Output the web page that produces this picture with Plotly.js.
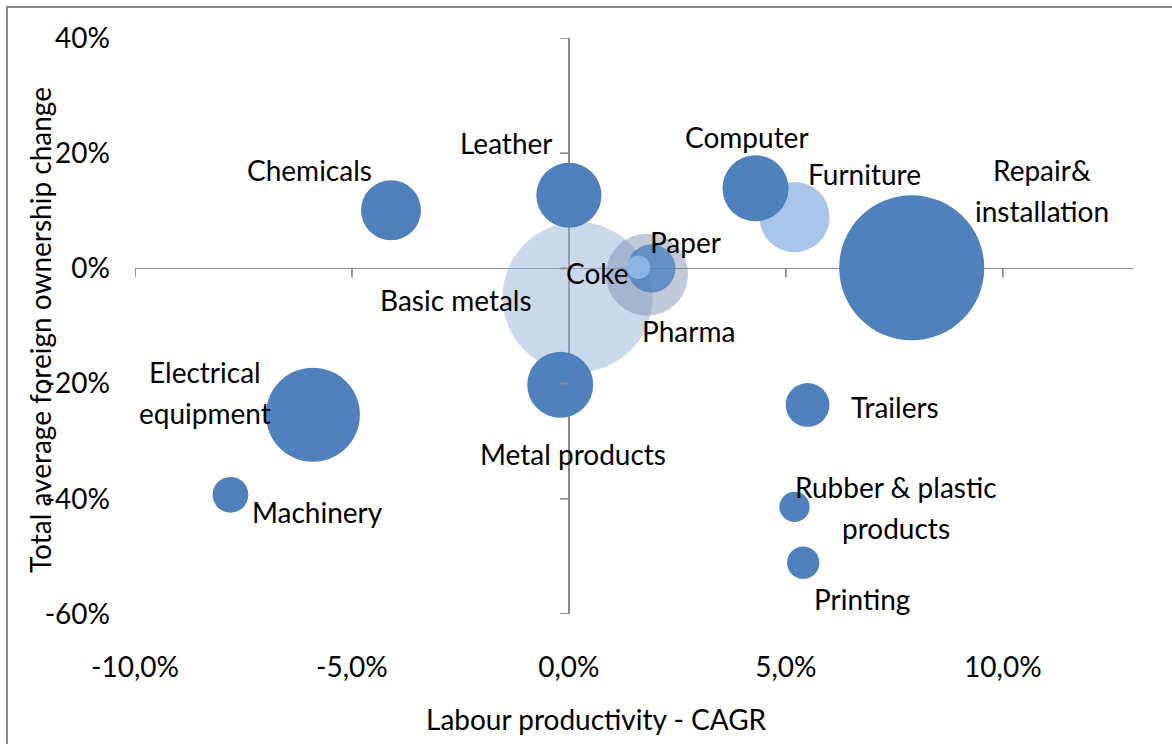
<!DOCTYPE html>
<html>
<head>
<meta charset="utf-8">
<script src="https://cdn.plot.ly/plotly-3.0.1.min.js"></script>
<style>
  html, body { margin: 0; padding: 0; background: #fff; overflow: hidden; }
  #chart { width: 1172px; height: 744px; position: absolute; left: 0; top: 0; }
  #frame { position: absolute; left: 6px; top: 6px; width: 1200px; height: 800px;
           border: 2px solid #8a8a8a; pointer-events: none; }
</style>
</head>
<body>
<div id="chart"></div>
<div id="frame"></div>
<script>
// ---- data ----
const sectors = ['Basic metals', 'Pharma', 'Paper', 'Coke', 'Chemicals', 'Leather',
  'Furniture', 'Computer', 'Repair&<br>installation', 'Metal products',
  'Electrical<br>equipment', 'Machinery', 'Trailers', 'Rubber & plastic<br>products', 'Printing'];
const labourProductivityCAGR = [0.002, 0.018, 0.019, 0.016, -0.041, 0.000,
  0.052, 0.043, 0.079, -0.002, -0.059, -0.078, 0.055, 0.052, 0.054];
const foreignOwnershipChange = [-0.050, -0.011, 0.000, 0.002, 0.101, 0.127,
  0.089, 0.139, 0.001, -0.202, -0.254, -0.393, -0.237, -0.414, -0.511];
const bubbleSize = [56.3, 16.8, 5.8, 1.4, 9.0, 10.6,
  12.3, 10.9, 52.6, 10.9, 22.1, 3.2, 4.8, 2.3, 2.6];
const xTickVals = [-0.10, -0.05, 0, 0.05, 0.10];
const xTickText = ['-10,0%', '-5,0%', '0,0%', '5,0%', '10,0%'];
const yTickVals = [0.4, 0.2, 0, -0.2, -0.4, -0.6];
const yTickText = ['40%', '20%', '0%', '-20%', '-40%', '-60%'];

// ---- styles (not data) ----
const FONT = 'Lato, "Open Sans", sans-serif';
const FS = 28;
const pointColors = ['rgba(149,179,215,0.5)', 'rgba(120,140,170,0.45)', 'rgba(79,129,189,0.8)',
  'rgb(142,180,227)', '#4f81bd', '#4f81bd', '#a9c5ea', '#4f81bd', '#4f81bd', '#4f81bd',
  '#4f81bd', '#4f81bd', '#4f81bd', '#4f81bd', '#4f81bd'];
// label offsets from bubble centre, in pixels (right, down)
const labelOffsets = [[-122, 3], [41, 56], [34, -26], [-41, 6], [-82, -40], [-62, -52],
  [70, -43], [-9, -51], [130, -77], [13, 69], [-108, -22], [87, 17], [87, 2], [101, 1], [59, 36]];
const LINE_GAP = 41;

const trace = {
  type: 'scatter', mode: 'markers',
  x: labourProductivityCAGR, y: foreignOwnershipChange,
  text: sectors, hoverinfo: 'text',
  marker: { size: bubbleSize, sizemode: 'area', sizeref: 0.005, opacity: 1,
            color: pointColors, line: { width: 0 } }
};

const annotations = [];
sectors.forEach((s, i) => {
  const lines = s.split('<br>');
  lines.forEach((ln, j) => {
    annotations.push({
      x: labourProductivityCAGR[i], y: foreignOwnershipChange[i], xref: 'x', yref: 'y',
      text: ln, showarrow: false, xanchor: 'center', yanchor: 'middle',
      xshift: labelOffsets[i][0],
      yshift: -(labelOffsets[i][1] + (j - (lines.length - 1) / 2) * LINE_GAP),
      font: { family: FONT, size: FS, color: '#000' }
    });
  });
});
annotations.push({
  text: 'Labour productivity - CAGR', xref: 'paper', yref: 'paper',
  x: (596 - 135) / 998, y: -(719 - 614) / 576, xanchor: 'center', yanchor: 'middle',
  showarrow: false, font: { family: FONT, size: FS, color: '#000' }
});
annotations.push({
  text: 'Total average foreign ownership change', xref: 'paper', yref: 'paper',
  x: (40 - 135) / 998, y: (614 - 330) / 576, xanchor: 'center', yanchor: 'middle',
  textangle: -90, showarrow: false, font: { family: FONT, size: FS, color: '#000' }
});

const shapes = [];
xTickVals.forEach(v => shapes.push({ type: 'line', xref: 'x', yref: 'y', ysizemode: 'pixel',
  yanchor: 0, x0: v, x1: v, y0: 0, y1: -9, line: { color: '#8a8a8a', width: 1.7 } }));
yTickVals.forEach(v => shapes.push({ type: 'line', xref: 'x', yref: 'y', xsizemode: 'pixel',
  xanchor: 0, x0: -9, x1: 0, y0: v, y1: v, line: { color: '#8a8a8a', width: 1.7 } }));

const layout = {
  width: 1172, height: 744,
  margin: { l: 135, r: 39, t: 38, b: 130 },
  paper_bgcolor: '#fff', plot_bgcolor: 'rgba(0,0,0,0)',
  showlegend: false,
  font: { family: FONT, size: FS, color: '#000' },
  xaxis: { range: [-0.10, 0.13], tickvals: xTickVals, ticktext: xTickText,
           showgrid: false, showline: false, ticks: '', zeroline: true,
           zerolinecolor: '#8a8a8a', zerolinewidth: 1.7, ticklabelstandoff: 34,
           tickfont: { family: FONT, size: FS, color: '#000' } },
  yaxis: { range: [-0.6, 0.4], tickvals: yTickVals, ticktext: yTickText,
           showgrid: false, showline: false, ticks: '', zeroline: true,
           zerolinecolor: '#8a8a8a', zerolinewidth: 1.7, ticklabelstandoff: 24,
           tickfont: { family: FONT, size: FS, color: '#000' } },
  shapes: shapes,
  annotations: annotations
};

Plotly.newPlot('chart', [trace], layout, { displayModeBar: false, staticPlot: true });
</script>
</body>
</html>
